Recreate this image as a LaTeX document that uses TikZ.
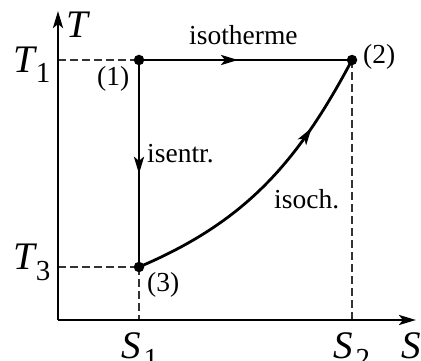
\documentclass[tikz,border=0pt]{standalone}
\usepackage{fontspec}
\setmainfont{Liberation Serif}
\usetikzlibrary{arrows.meta,decorations.markings}
\begin{document}
\begin{tikzpicture}[x=1pt,y=-1pt,
  axisln/.style={line width=2.8pt,-{Stealth[length=17pt,width=10pt,inset=4pt]}},
  procln/.style={line width=2.8pt},
  dashln/.style={line width=1.7pt,black!80,dash pattern=on 8pt off 4pt},
  ptdot/.style={circle,fill=black,minimum size=10.5pt,inner sep=0pt},
  lbl/.style={font=\fontsize{27.5}{27.5}\selectfont,inner sep=0pt,anchor=base west},
  big/.style={font=\fontsize{39}{39}\selectfont\itshape,inner sep=0pt,anchor=base west},
  midarrow/.style={postaction={decorate},decoration={markings,
     mark=at position #1 with {\arrow{Stealth[length=17pt,width=10pt,inset=4pt]}}}}
]
\useasboundingbox (0,0) rectangle (421,361);
\coordinate (O) at (58,320);
\coordinate (Ttip) at (58,11);
\coordinate (Stip) at (416,320);
\coordinate (A1) at (58,60);
\coordinate (A3) at (58,267);
\coordinate (B1) at (139,320);
\coordinate (B2) at (352,320);
% dashed guides
\draw[dashln] (A1) -- (139,60);
\draw[dashln] (A3) -- (139,267);
\draw[dashln] (139,267) -- (B1);
\draw[dashln] (352,60) -- (B2);
% axes
\draw[axisln] (O) -- (Ttip);
\draw[axisln] (O) -- (Stip);
% points
\node[ptdot] (p1) at (139,60) {};
\node[ptdot] (p2) at (352,60) {};
\node[ptdot] (p3) at (139,267) {};
% processes
\draw[procln,midarrow=0.465] (p1.center) -- (p2.center);
\draw[procln,midarrow=0.55] (p1.center) -- (p3.center);
\draw[procln,midarrow=0.74] (p3.center) to[out=23,in=-118,looseness=1.0] (p2.center);
% labels
\node[big] (Tlab) at (66,38) {T};
\node[big] (T1) at (13,73) {T\kern1pt\raisebox{-10pt}{\fontsize{29}{29}\selectfont\upshape 1}};
\node[big] (T3) at (13,269) {T\kern1pt\raisebox{-11pt}{\fontsize{29}{29}\selectfont\upshape 3}};
\node[big] (S1) at (121,358) {S\kern3pt\raisebox{-10pt}{\fontsize{29}{29}\selectfont\upshape 1}};
\node[big] (S2) at (333,358) {S\kern3pt\raisebox{-10pt}{\fontsize{29}{29}\selectfont\upshape 2}};
\node[big] (Slab) at (401,358) {S};
\node[lbl] (l1) at (97,86) {(1)};
\node[lbl] (l2) at (363,64) {(2)};
\node[lbl] (l3) at (147,291) {(3)};
\node[lbl] (iso) at (189,45) {isotherme};
\node[lbl] (isen) at (147,162) {isentr.};
\node[lbl] (isoc) at (274,208) {isoch.};
\end{tikzpicture}
\end{document}
